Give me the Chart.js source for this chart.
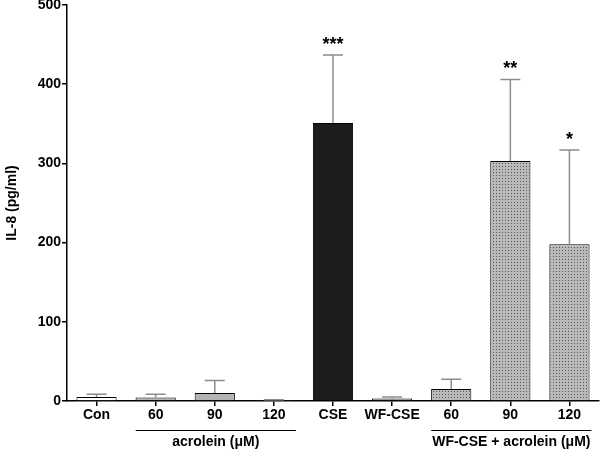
<!DOCTYPE html>
<html>
<head>
<meta charset="utf-8">
<script src="https://cdn.jsdelivr.net/npm/chart.js@4.4.1/dist/chart.umd.min.js"></script>
<style>
  html, body { margin: 0; padding: 0; background: #fff; }
  #wrap { width: 600px; height: 449px; }
</style>
</head>
<body>
<div id="wrap"><canvas id="il8Chart" width="600" height="449"></canvas></div>
<script>
// --- DATA ---
const categories = ['Con', '60', '90', '120', 'CSE', 'WF-CSE', '60', '90', '120'];
const meanIL8 = [5, 4.5, 10, 0.5, 351, 3, 15, 303, 198];
const semIL8 = [3.5, 4, 16, 1, 86, 2, 12.5, 103, 119];
const stars = ['', '', '', '', '***', '', '', '**', '*'];
const groupLabels = ['acrolein (\u03BCM)', 'WF-CSE + acrolein (\u03BCM)'];
const groupFrom = [1, 6];
const groupTo = [3, 8];
const yTicks = [0, 100, 200, 300, 400, 500];

// --- STYLE ---
const FONT = '"Liberation Sans", Arial, sans-serif';

function dotPattern() {
    const c = document.createElement('canvas');
    c.width = 3; c.height = 3;
    const g = c.getContext('2d');
    g.fillStyle = '#bababa';
    g.fillRect(0, 0, 3, 3);
    g.fillStyle = '#555555';
    g.fillRect(1, 1, 1, 1);
    return document.getElementById('il8Chart').getContext('2d').createPattern(c, 'repeat');
}
const dots = dotPattern();
const barFills = ['#ffffff', '#b3b3b3', '#b3b3b3', '#b3b3b3', '#1c1c1c', '#b0b0b0', dots, dots, dots];

// --- PLUGIN: error bars, stars, group lines ---
const extrasPlugin = {
    id: 'extras',
    afterDatasetsDraw(chart) {
        const ctx = chart.ctx;
        const x = chart.scales.x;
        const y = chart.scales.y;
        ctx.save();
        // error bars (upper only)
        ctx.strokeStyle = '#8c8c8c';
        ctx.lineWidth = 1.5;
        meanIL8.forEach((m, i) => {
            const cx = x.getPixelForValue(i);
            const top = y.getPixelForValue(m);
            const cap = y.getPixelForValue(m + semIL8[i]);
            ctx.beginPath();
            ctx.moveTo(cx, top);
            ctx.lineTo(cx, cap);
            ctx.moveTo(cx - 10, cap);
            ctx.lineTo(cx + 10, cap);
            ctx.stroke();
            if (stars[i]) {
                ctx.fillStyle = '#000';
                ctx.font = 'bold 18px ' + FONT;
                ctx.textAlign = 'center';
                ctx.textBaseline = 'middle';
                ctx.fillText(stars[i], cx, cap - 10);
            }
        });
        ctx.restore();
    },
    afterDraw(chart) {
        const ctx = chart.ctx;
        const x = chart.scales.x;
        ctx.save();
        ctx.strokeStyle = '#000';
        ctx.lineWidth = 1;
        ctx.fillStyle = '#000';
        ctx.font = 'bold 14px ' + FONT;
        ctx.textAlign = 'center';
        ctx.textBaseline = 'middle';
        groupLabels.forEach((lbl, g) => {
            const x0 = x.getPixelForValue(groupFrom[g]) - 20;
            const x1 = x.getPixelForValue(groupTo[g]) + 22;
            ctx.beginPath();
            ctx.moveTo(x0, 430.5);
            ctx.lineTo(x1, 430.5);
            ctx.stroke();
            ctx.fillText(lbl, (x0 + x1) / 2, 442);
        });
        ctx.restore();
    }
};

new Chart(document.getElementById('il8Chart'), {
    type: 'bar',
    data: {
        labels: categories,
        datasets: [{
            data: meanIL8,
            backgroundColor: barFills,
            borderColor: '#000',
            borderWidth: 1,
            borderSkipped: 'bottom',
            barPercentage: 0.68,
            categoryPercentage: 1
        }]
    },
    options: {
        responsive: false,
        animation: false,
        layout: { padding: { top: 5, right: 1, left: 0, bottom: 0 } },
        plugins: { legend: { display: false }, tooltip: { enabled: false } },
        scales: {
            x: {
                offset: true,
                grid: { offset: false, drawOnChartArea: false, drawTicks: true, tickLength: 5, color: '#000', lineWidth: 1.5 },
                border: { color: '#000', width: 1.5 },
                ticks: { color: '#000', font: { family: FONT, size: 14, weight: 'bold' }, padding: 1, maxRotation: 0, autoSkip: false },
                afterFit(scale) { scale.height = 48; }
            },
            y: {
                min: 0,
                max: 500,
                afterBuildTicks(scale) { scale.ticks = yTicks.map(v => ({ value: v })); },
                grid: { drawOnChartArea: false, drawTicks: true, tickLength: 5, color: '#000', lineWidth: 1.5 },
                border: { color: '#000', width: 1.5 },
                ticks: { color: '#000', font: { family: FONT, size: 14, weight: 'bold' }, padding: 1 },
                title: { display: true, text: 'IL-8 (pg/ml)', color: '#000', font: { family: FONT, size: 14, weight: 'bold' }, padding: { top: 4, bottom: 4 } },
                afterFit(scale) {
                    scale.width = 67;
                    scale.paddingTop = 0;
                    scale.paddingBottom = 0;
                }
            }
        }
    },
    plugins: [extrasPlugin]
});
</script>
</body>
</html>
